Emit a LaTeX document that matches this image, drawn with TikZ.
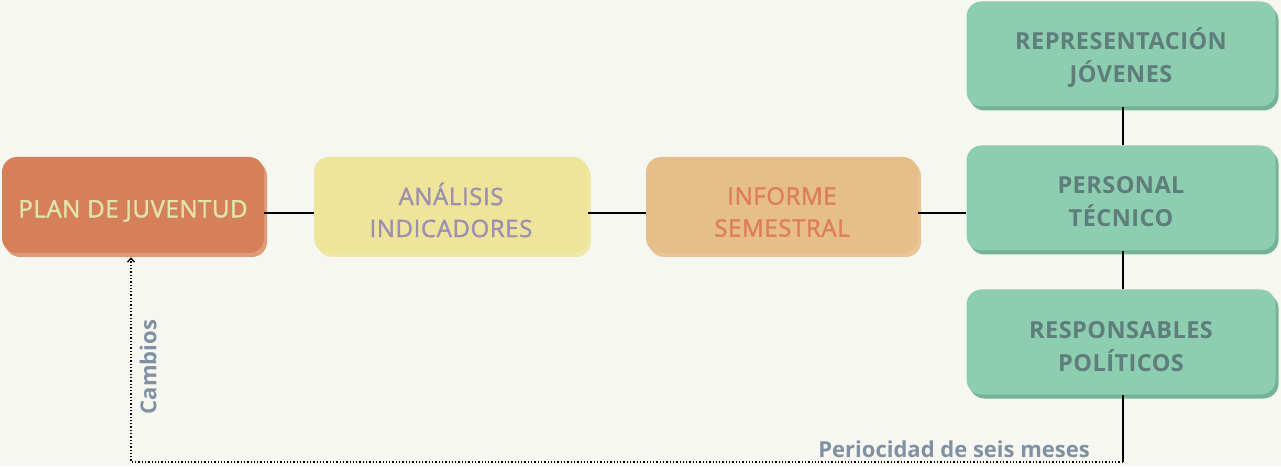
\documentclass[tikz,border=0pt]{standalone}
\usepackage{fontspec}
\setmainfont{Open Sans}
\newfontfamily\boxfont{Open Sans}[LetterSpace=2.5,FakeBold=1.5]
\newfontfamily\greenfont{Open Sans}[LetterSpace=2]
\usetikzlibrary{shadows,arrows.meta}

\definecolor{bgcol}{HTML}{F7F7F2}
\definecolor{planfill}{HTML}{D6805A}
\definecolor{planshade}{HTML}{E39876}
\definecolor{plantext}{HTML}{E2E4AE}
\definecolor{anafill}{HTML}{EEE59B}
\definecolor{anashade}{HTML}{F0E8A8}
\definecolor{anatext}{HTML}{9D8FB0}
\definecolor{infofill}{HTML}{E5BE8A}
\definecolor{infoshade}{HTML}{E9C597}
\definecolor{infotext}{HTML}{DE7C5B}
\definecolor{greenfill}{HTML}{8DCDB0}
\definecolor{greenshade}{HTML}{76B394}
\definecolor{greentext}{HTML}{5F7D7B}
\definecolor{notetext}{HTML}{8091A3}

\tikzset{
  box/.style={rounded corners=15pt, inner sep=0pt},
  warmbox/.style={box, minimum width=262pt, minimum height=96pt},
  greenbox/.style={box, fill=greenfill, minimum width=309pt, minimum height=105pt,
    general shadow={fill=greenshade, shadow xshift=3pt, shadow yshift=-4pt}},
  warmtext/.style={align=center, inner sep=0pt,
    font=\boxfont\fontsize{24}{32}\selectfont},
  greentext/.style={align=center, inner sep=0pt, text=greentext,
    font=\greenfont\bfseries\fontsize{23.5}{33}\selectfont},
  note/.style={text=notetext, inner sep=0pt,
    font=\bfseries\fontsize{22}{26}\selectfont},
  link/.style={line width=1.8pt},
  back/.style={line width=1.3pt, dotted, -{Straight Barb[length=4pt,width=7pt]}}
}

\begin{document}
\begin{tikzpicture}[x=1pt,y=1pt]
\fill[bgcol] (0,0) rectangle (1281,466);
\useasboundingbox (0,0) rectangle (1281,466);

% process chain
\node[warmbox, fill=planfill,
  general shadow={fill=planshade, shadow xshift=3pt, shadow yshift=-4pt}]
  (plan) at (133,261) {};
\node[warmbox, minimum width=274pt, fill=anafill,
  general shadow={fill=anashade, shadow xshift=3pt, shadow yshift=-4pt}]
  (analisis) at (451,261) {};
\node[warmbox, minimum width=272pt, fill=infofill,
  general shadow={fill=infoshade, shadow xshift=3pt, shadow yshift=-4pt}]
  (informe) at (782,261) {};
\node[warmtext, text=plantext] (plan-t) at ([yshift=-6pt]plan.center) {PLAN DE JUVENTUD};
\node[warmtext, text=anatext] (analisis-t) at ([yshift=-5pt]analisis.center) {ANÁLISIS\\INDICADORES};
\node[warmtext, text=infotext] (informe-t) at ([yshift=-7pt]informe.center) {INFORME\\SEMESTRAL};

% recipients
\node[greenbox] (representacion) at (1121,412) {};
\node[greenbox] (personal) at (1121,268) {};
\node[greenbox] (responsables) at (1121,124) {};
\node[greentext] (representacion-t) at ([yshift=-4pt]representacion.center) {REPRESENTACIÓN\\JÓVENES};
\node[greentext] (personal-t) at ([yshift=-4pt]personal.center) {PERSONAL\\TÉCNICO};
\node[greentext] (responsables-t) at ([yshift=-5pt]responsables.center) {RESPONSABLES\\POLÍTICOS};

\coordinate (corner) at (1123,4);

\draw[link] ([yshift=-8pt]plan.east) -- ([yshift=-8pt]analisis.west);
\draw[link] ([yshift=-8pt]analisis.east) -- ([yshift=-8pt]informe.west);
\draw[link] ([yshift=-8pt]informe.east) -- ([yshift=-8pt]informe.east -| personal.west);
\draw[link] ([xshift=2pt]representacion.south) -- ([xshift=2pt]personal.north);
\draw[link] ([xshift=2pt]personal.south) -- ([xshift=2pt]responsables.north);
\draw[link] ([xshift=2pt]responsables.south) -- (corner);

\draw[back] (corner) -| ([xshift=-2pt,yshift=-4pt]plan.south);

\node[note, anchor=south east] (periodo) at (1090,8) {Periocidad de seis meses};
\node[note, rotate=90] (cambios) at (148,99) {Cambios};
\end{tikzpicture}
\end{document}
